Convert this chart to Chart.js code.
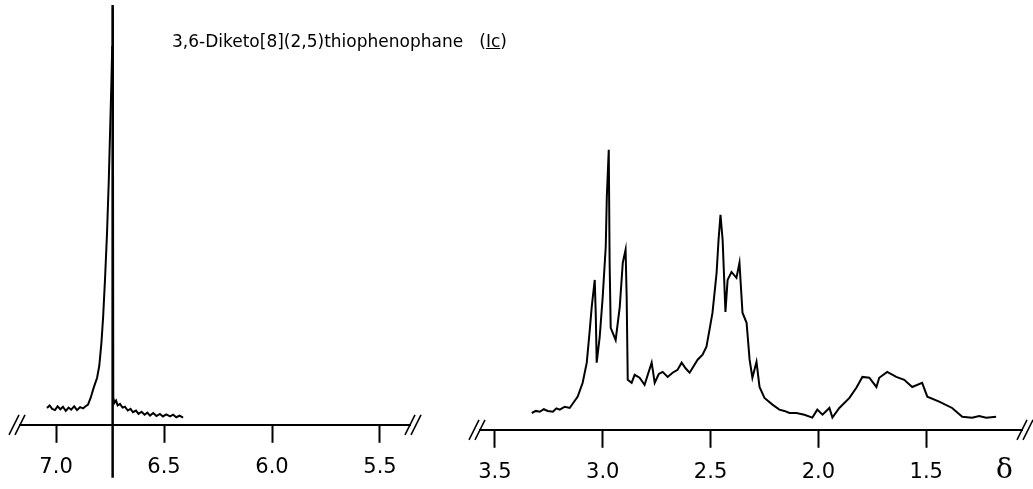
<!DOCTYPE html>
<html>
<head>
<meta charset="utf-8">
<script src="https://cdn.jsdelivr.net/npm/chart.js@4/dist/chart.umd.min.js"></script>
<style>
    body { margin: 0; background: #fff; overflow: hidden; }
    #wrap { position: relative; width: 1033px; height: 489px; overflow: hidden; }
    canvas { position: absolute; }
    #leftChart { left: 0; top: 5px; }
    #rightChart { left: 460px; top: 10px; }
    .title { position: absolute; left: 172px; top: 31px; font-family: 'DejaVu Sans', sans-serif; font-size: 17px; color: #000; white-space: nowrap; }
    .delta { position: absolute; left: 996px; top: 452px; font-family: 'DejaVu Serif', serif; font-size: 28px; color: #000; }
</style>
</head>
<body>
<div id="wrap">
    <canvas id="leftChart" width="430" height="488"></canvas>
    <canvas id="rightChart" width="573" height="487"></canvas>
    <div class="title">3,6-Diketo[8](2,5)thiophenophane&nbsp;&nbsp;&nbsp;(<u>Ic</u>)</div>
    <div class="delta">δ</div>
</div>
<script>
// chemical shift (ppm) and relative intensity
const leftShift = [7.042, 7.030, 7.018, 7.005, 6.993, 6.980, 6.968, 6.955, 6.942, 6.930, 6.916, 6.903, 6.889, 6.875, 6.866, 6.852, 6.840, 6.826, 6.810, 6.800, 6.790, 6.782, 6.773, 6.764, 6.756, 6.750, 6.744, 6.740, 6.737,
                   6.735, 6.730, 6.722, 6.715, 6.704, 6.692, 6.681, 6.668, 6.655, 6.644, 6.630, 6.618, 6.604, 6.590, 6.577, 6.565, 6.550, 6.535, 6.519, 6.505, 6.490, 6.472, 6.458, 6.443, 6.428, 6.412];
const leftIntensity = [4.0, 4.6, 3.8, 3.5, 4.4, 3.7, 4.3, 3.3, 4.1, 3.6, 4.4, 3.5, 4.2, 3.9, 4.3, 4.8, 6.4, 8.8, 11.2, 14.0, 19.5, 25.7, 35.0, 45.7, 58.0, 69.5, 81.0, 90.0, 99.3,
                       6.5, 5.2, 5.8, 4.6, 5.0, 4.1, 4.3, 3.4, 3.8, 3.0, 3.4, 2.6, 3.1, 2.4, 2.9, 2.2, 2.8, 2.1, 2.6, 2.0, 2.5, 2.0, 2.4, 1.8, 2.2, 1.7];

// reference marker line through the sharp peak
const markerShift = [6.738, 6.738];
const markerIntensity = [-12.6, 100];

const rightShift = [3.329, 3.310, 3.292, 3.273, 3.255, 3.231, 3.215, 3.199, 3.176, 3.153, 3.116, 3.093, 3.074, 3.060, 3.051, 3.037, 3.032, 3.028, 3.014, 3.000,
                    2.986, 2.981, 2.972, 2.968, 2.963, 2.940, 2.921, 2.907, 2.894, 2.889, 2.884, 2.866, 2.852, 2.829, 2.806, 2.773, 2.759, 2.740, 2.722,
                    2.699, 2.676, 2.653, 2.634, 2.615, 2.597, 2.560, 2.537, 2.519, 2.505, 2.491, 2.472, 2.463, 2.454, 2.444, 2.431, 2.421, 2.403, 2.380,
                    2.366, 2.352, 2.333, 2.319, 2.306, 2.287, 2.273, 2.250, 2.213, 2.181, 2.158, 2.134, 2.102, 2.065, 2.028, 2.005, 1.981, 1.949, 1.935,
                    1.903, 1.856, 1.824, 1.796, 1.764, 1.731, 1.718, 1.681, 1.639, 1.602, 1.565, 1.519, 1.495, 1.440, 1.380, 1.333, 1.287, 1.255, 1.222, 1.176];
const rightIntensity = [4.0, 4.5, 4.3, 4.9, 4.5, 4.3, 5.1, 4.8, 5.5, 5.2, 7.9, 11.2, 16.0, 23.8, 29.3, 35.7, 26.9, 16.0, 22.1, 31.7,
                        43.6, 55.5, 66.7, 39.8, 24.3, 21.4, 29.3, 39.8, 42.9, 31.7, 11.9, 11.2, 13.1, 12.4, 10.7, 16.0, 11.2, 13.3, 13.8,
                        12.6, 13.6, 14.3, 16.0, 14.6, 13.6, 16.7, 17.9, 19.8, 23.8, 27.9, 37.4, 45.2, 51.2, 45.2, 28.1, 35.7, 37.6, 36.2,
                        39.8, 27.9, 25.5, 16.7, 12.4, 16.2, 10.2, 7.6, 6.0, 4.8, 4.5, 4.0, 4.0, 3.6, 2.9, 4.8, 3.6, 5.2, 2.9,
                        5.2, 7.6, 10.0, 12.6, 12.4, 10.2, 12.4, 13.8, 12.6, 11.9, 10.2, 11.2, 7.9, 6.7, 5.2, 3.1, 2.9, 3.3, 2.9, 3.1];

const leftTicks = [7.0, 6.5, 6.0, 5.5];
const rightTicks = [3.5, 3.0, 2.5, 2.0, 1.5];

function toPoints(xs, ys) {
    return xs.map((x, i) => ({ x: x, y: ys[i] }));
}

// the "//" marks where the axis is broken
const breakMarks = {
    id: 'breakMarks',
    afterDraw(chart) {
        const ctx = chart.ctx;
        const area = chart.chartArea;
        const y = area.bottom;
        ctx.save();
        ctx.strokeStyle = '#000';
        ctx.lineWidth = 1.6;
        [area.left - 3, area.right + 3].forEach(x => {
            [-3, 3].forEach(d => {
                ctx.beginPath();
                ctx.moveTo(x + d - 5, y + 10);
                ctx.lineTo(x + d + 5, y - 10);
                ctx.stroke();
            });
        });
        ctx.restore();
    }
};

function makeOptions(min, max, ticks, pad) {
    return {
        responsive: false,
        animation: false,
        layout: { padding: pad },
        plugins: { legend: { display: false }, tooltip: { enabled: false } },
        elements: { point: { radius: 0 }, line: { tension: 0 } },
        scales: {
            x: {
                type: 'linear',
                reverse: true,
                min: min,
                max: max,
                afterBuildTicks: scale => { scale.ticks = ticks.map(v => ({ value: v })); },
                border: { color: '#000', width: 2 },
                grid: { drawOnChartArea: false, tickLength: 18, tickColor: '#000', tickWidth: 2 },
                ticks: {
                    color: '#000',
                    padding: 12,
                    maxRotation: 0,
                    font: { family: 'DejaVu Sans', size: 21 },
                    callback: v => v.toFixed(1)
                }
            },
            y: { display: false, min: 0, max: 100 }
        }
    };
}

new Chart(document.getElementById('leftChart'), {
    type: 'line',
    data: {
        datasets: [
            { data: toPoints(leftShift, leftIntensity), borderColor: '#000', borderWidth: 2, fill: false },
            { data: toPoints(markerShift, markerIntensity), borderColor: '#000', borderWidth: 2.5, clip: false }
        ]
    },
    options: makeOptions(5.361, 7.167, leftTicks, { left: 20, right: 20, top: 0, bottom: 1 }),
    plugins: [breakMarks]
});

new Chart(document.getElementById('rightChart'), {
    type: 'line',
    data: {
        datasets: [
            { data: toPoints(rightShift, rightIntensity), borderColor: '#000', borderWidth: 2, fill: false }
        ]
    },
    options: makeOptions(1.056, 3.569, rightTicks, { left: 20, right: 11, top: 0, bottom: 0 }),
    plugins: [breakMarks]
});
</script>
</body>
</html>
